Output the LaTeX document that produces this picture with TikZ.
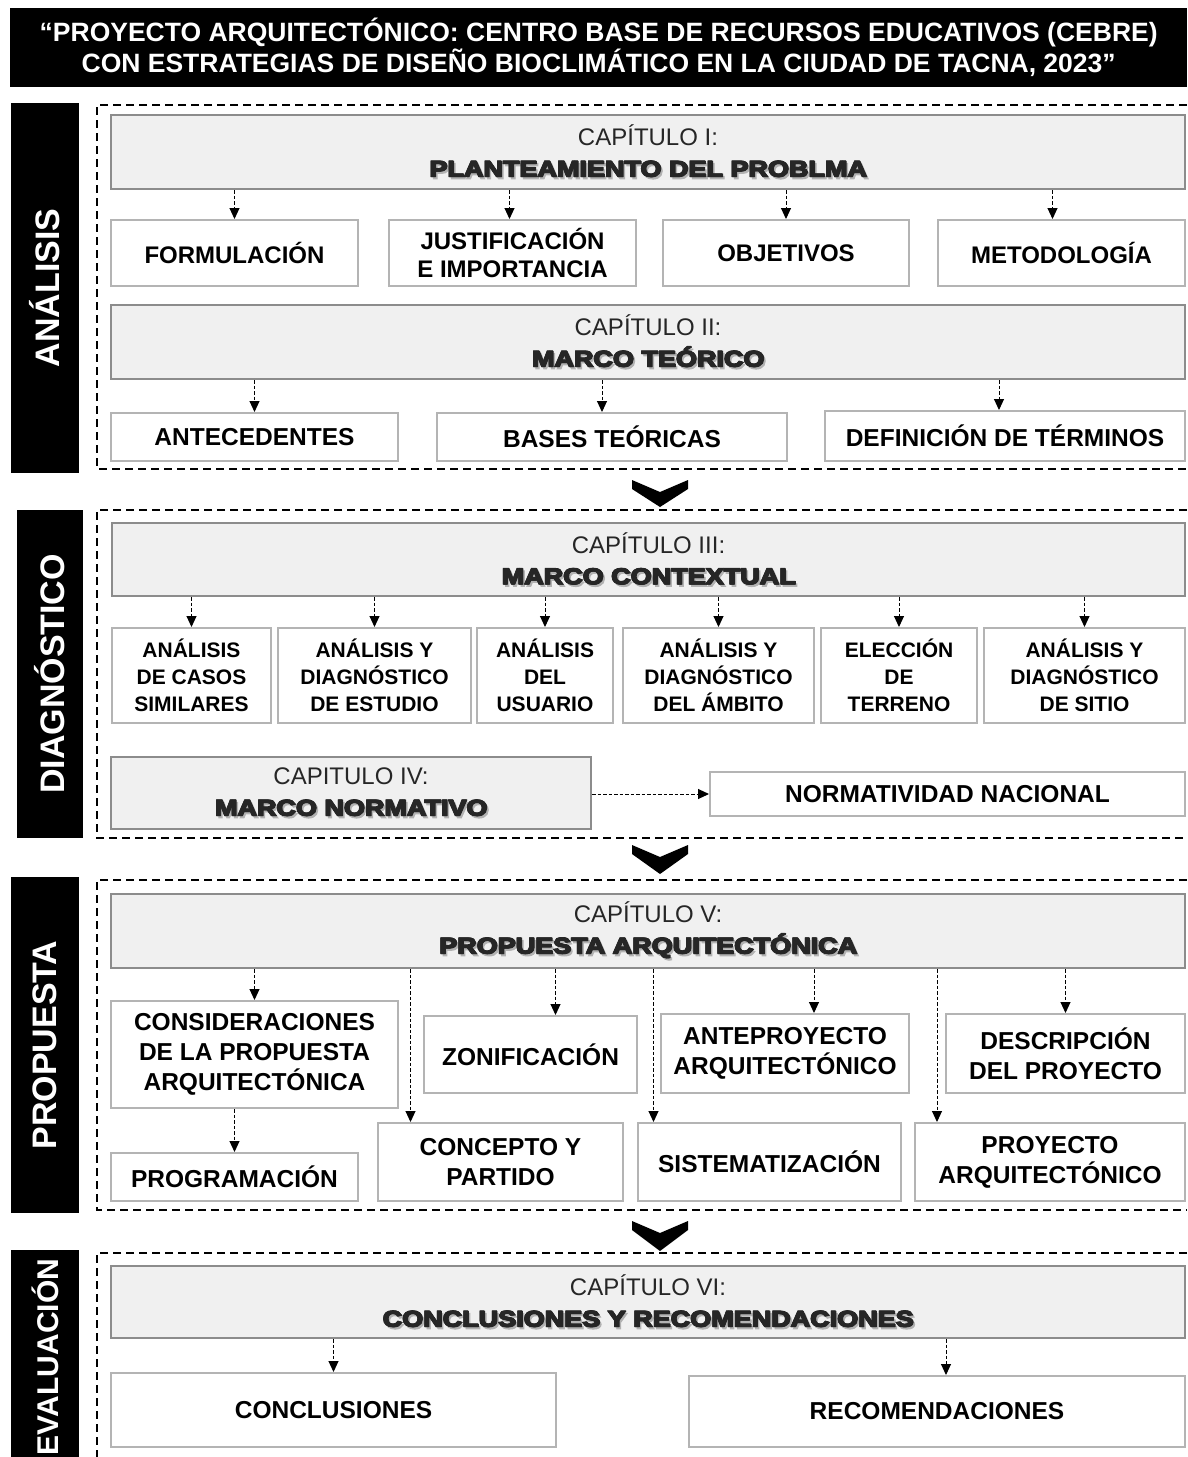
\documentclass[tikz,border=0pt]{standalone}
\usepackage{fontspec}
\setmainfont{Liberation Sans}
\newfontfamily\heavyfont{Liberation Sans}[FakeStretch=1.2, BoldFeatures={FakeBold=4}]
\usetikzlibrary{arrows.meta}
\definecolor{fondocap}{HTML}{F0F0F0}
\definecolor{bordecap}{HTML}{8C8C8C}
\definecolor{bordetema}{HTML}{B4B4B4}
\newcommand{\sombra}[1]{\makebox[0pt][l]{\hspace{2.2pt}\raisebox{-2.2pt}{\textcolor{black!30}{#1}}}\makebox[0pt][l]{\hspace{0.7pt}#1}\makebox[0pt][l]{\raisebox{0.4pt}{#1}}#1}
\newcommand{\pesado}[1]{{\fontsize{22.5}{31}\selectfont\heavyfont\bfseries\sombra{#1}}}
\tikzset{
  titulo/.style={fill=black, text=white, inner sep=0pt, align=center, anchor=north west, font=\fontsize{26.5}{31}\selectfont\bfseries},
  lateral/.style={fill=black, text=white, inner sep=0pt, rotate=90, font=\fontsize{34}{34}\selectfont\bfseries},
  capitulo/.style={draw=bordecap, fill=fondocap, line width=2pt, inner sep=0pt, align=center, anchor=north west, text=black!85, font=\fontsize{24}{31}\selectfont},
  tema/.style={draw=bordetema, fill=white, line width=2pt, inner sep=0pt, align=center, anchor=north west, font=\fontsize{24}{28}\selectfont\bfseries},
  temab/.style={tema, font=\fontsize{21}{27}\selectfont\bfseries},
  temac/.style={tema, font=\fontsize{24.5}{30}\selectfont\bfseries},
  marco/.style={line width=1.8pt, dash pattern=on 8pt off 5pt},
  flecha/.style={line width=1pt, dash pattern=on 3.5pt off 2pt, -{Triangle[length=11pt,width=10pt]}},
}
\begin{document}
\begin{tikzpicture}[x=1pt, y=-1pt]
\useasboundingbox (0,0) rectangle (1187,1457);
\node[titulo, minimum width=1177, minimum height=79] (tit) at (10,8) {“PROYECTO ARQUITECTÓNICO: CENTRO BASE DE RECURSOS EDUCATIVOS (CEBRE)\\CON ESTRATEGIAS DE DISEÑO BIOCLIMÁTICO EN LA CIUDAD DE TACNA, 2023”};
% analisis
\node[lateral, minimum width=370, minimum height=68] (analisis) at (45,288) {ANÁLISIS};
\draw[marco] (1187,105) -- (97,105) -- (97,469) -- (1187,469);
\node[capitulo, minimum width=1074, minimum height=74] (cap1) at (110,114) {CAPÍTULO I:\\\pesado{PLANTEAMIENTO DEL PROBLMA}};
\node[tema, minimum width=247, minimum height=66] (form) at (110,219) {FORMULACIÓN};
\node[tema, minimum width=247, minimum height=66] (just) at (388,219) {JUSTIFICACIÓN\\E IMPORTANCIA};
\node[tema, minimum width=246, minimum height=66] (obj) at (662,219) {OBJETIVOS};
\node[tema, minimum width=247, minimum height=66] (met) at (937,219) {METODOLOGÍA};
\draw[flecha] (form.north |- cap1.south) -- (form.north);
\draw[flecha] ([xshift=-3pt]just.north |- cap1.south) -- ([xshift=-3pt]just.north);
\draw[flecha] (obj.north |- cap1.south) -- (obj.north);
\draw[flecha] ([xshift=-9pt]met.north |- cap1.south) -- ([xshift=-9pt]met.north);
\node[capitulo, minimum width=1074, minimum height=74] (cap2) at (110,304) {CAPÍTULO II:\\\pesado{MARCO TEÓRICO}};
\node[temac, minimum width=287, minimum height=48] (ante) at (110,412) {ANTECEDENTES};
\node[temac, minimum width=350, minimum height=48] (bases) at (436,412) {BASES TEÓRICAS};
\node[temac, minimum width=360, minimum height=50] (defi) at (824,410) {DEFINICIÓN DE TÉRMINOS};
\draw[flecha] (ante.north |- cap2.south) -- (ante.north);
\draw[flecha] ([xshift=-10pt]bases.north |- cap2.south) -- ([xshift=-10pt]bases.north);
\draw[flecha] ([xshift=-6pt]defi.north |- cap2.south) -- ([xshift=-6pt]defi.north);
\fill (632,480) -- (660,492) -- (688,480) -- (688,489) -- (660,507) -- (632,489) -- cycle;
% diagnostico
\node[lateral, minimum width=328, minimum height=66] (diagnostico) at (50,674) {DIAGNÓSTICO};
\draw[marco] (1187,510) -- (97,510) -- (97,838) -- (1187,838);
\node[capitulo, minimum width=1073, minimum height=73] (cap3) at (111,522) {CAPÍTULO III:\\\pesado{MARCO CONTEXTUAL}};
\node[temab, minimum width=159, minimum height=95] (casos) at (111,627) {ANÁLISIS\\DE CASOS\\SIMILARES};
\node[temab, minimum width=193, minimum height=95] (estudio) at (277,627) {ANÁLISIS Y\\DIAGNÓSTICO\\DE ESTUDIO};
\node[temab, minimum width=136, minimum height=95] (usuario) at (476,627) {ANÁLISIS\\DEL\\USUARIO};
\node[temab, minimum width=191, minimum height=95] (ambito) at (622,627) {ANÁLISIS Y\\DIAGNÓSTICO\\DEL ÁMBITO};
\node[temab, minimum width=156, minimum height=95] (terreno) at (820,627) {ELECCIÓN\\DE\\TERRENO};
\node[temab, minimum width=201, minimum height=95] (sitio) at (983,627) {ANÁLISIS Y\\DIAGNÓSTICO\\DE SITIO};
\draw[flecha] (casos.north |- cap3.south) -- (casos.north);
\draw[flecha] (estudio.north |- cap3.south) -- (estudio.north);
\draw[flecha] (usuario.north |- cap3.south) -- (usuario.north);
\draw[flecha] (ambito.north |- cap3.south) -- (ambito.north);
\draw[flecha] (terreno.north |- cap3.south) -- (terreno.north);
\draw[flecha] (sitio.north |- cap3.south) -- (sitio.north);
\node[capitulo, minimum width=480, minimum height=72] (cap4) at (110,756) {CAPITULO IV:\\\pesado{MARCO NORMATIVO}};
\node[temac, minimum width=475, minimum height=44] (norm) at (709,771) {NORMATIVIDAD NACIONAL};
\draw[flecha] (cap4.east |- norm.west) -- (norm.west);
\fill (632,845) -- (660,857) -- (688,845) -- (688,854) -- (660,874) -- (632,854) -- cycle;
% propuesta
\node[lateral, minimum width=336, minimum height=68] (propuesta) at (45,1045) {PROPUESTA};
\draw[marco] (1187,880) -- (97,880) -- (97,1210) -- (1187,1210);
\node[capitulo, minimum width=1074, minimum height=74] (cap5) at (110,893) {CAPÍTULO V:\\\pesado{PROPUESTA ARQUITECTÓNICA}};
\node[temac, minimum width=287, minimum height=107] (cons) at (110,1000) {CONSIDERACIONES\\DE LA PROPUESTA\\ARQUITECTÓNICA};
\node[temac, minimum width=247, minimum height=48] (prog) at (110,1152) {PROGRAMACIÓN};
\node[temac, minimum width=213, minimum height=77] (zon) at (423,1015) {ZONIFICACIÓN};
\node[temac, minimum width=245, minimum height=78] (conc) at (377,1122) {CONCEPTO Y\\PARTIDO};
\node[temac, minimum width=248, minimum height=79] (antep) at (660,1013) {ANTEPROYECTO\\ARQUITECTÓNICO};
\node[temac, minimum width=263, minimum height=78] (sist) at (637,1122) {SISTEMATIZACIÓN};
\node[temac, minimum width=239, minimum height=79] (desc) at (945,1013) {DESCRIPCIÓN\\DEL PROYECTO};
\node[temac, minimum width=270, minimum height=78] (proy) at (914,1122) {PROYECTO\\ARQUITECTÓNICO};
\draw[flecha] (cons.north |- cap5.south) -- (cons.north);
\draw[flecha] (prog.north |- cons.south) -- (prog.north);
\draw[flecha] ([xshift=25pt]zon.north |- cap5.south) -- ([xshift=25pt]zon.north);
\draw[flecha] ([xshift=-90pt]conc.north |- cap5.south) -- ([xshift=-90pt]conc.north);
\draw[flecha] ([xshift=29pt]antep.north |- cap5.south) -- ([xshift=29pt]antep.north);
\draw[flecha] ([xshift=-116pt]sist.north |- cap5.south) -- ([xshift=-116pt]sist.north);
\draw[flecha] (desc.north |- cap5.south) -- (desc.north);
\draw[flecha] ([xshift=-113pt]proy.north |- cap5.south) -- ([xshift=-113pt]proy.north);
\fill (632,1221) -- (660,1233) -- (688,1221) -- (688,1230) -- (660,1251) -- (632,1230) -- cycle;
% evaluacion
\node[lateral, minimum width=214, minimum height=68, font=\fontsize{30}{30}\selectfont\bfseries] (evaluacion) at (45,1357) {EVALUACIÓN};
\draw[marco] (1187,1253) -- (97,1253) -- (97,1460);
\node[capitulo, minimum width=1074, minimum height=72] (cap6) at (110,1265) {CAPÍTULO VI:\\\pesado{CONCLUSIONES Y RECOMENDACIONES}};
\node[temac, minimum width=445, minimum height=74] (concl) at (110,1372) {CONCLUSIONES};
\node[temac, minimum width=496, minimum height=71] (recom) at (688,1375) {RECOMENDACIONES};
\draw[flecha] (concl.north |- cap6.south) -- (concl.north);
\draw[flecha] ([xshift=9pt]recom.north |- cap6.south) -- ([xshift=9pt]recom.north);
\end{tikzpicture}
\end{document}
